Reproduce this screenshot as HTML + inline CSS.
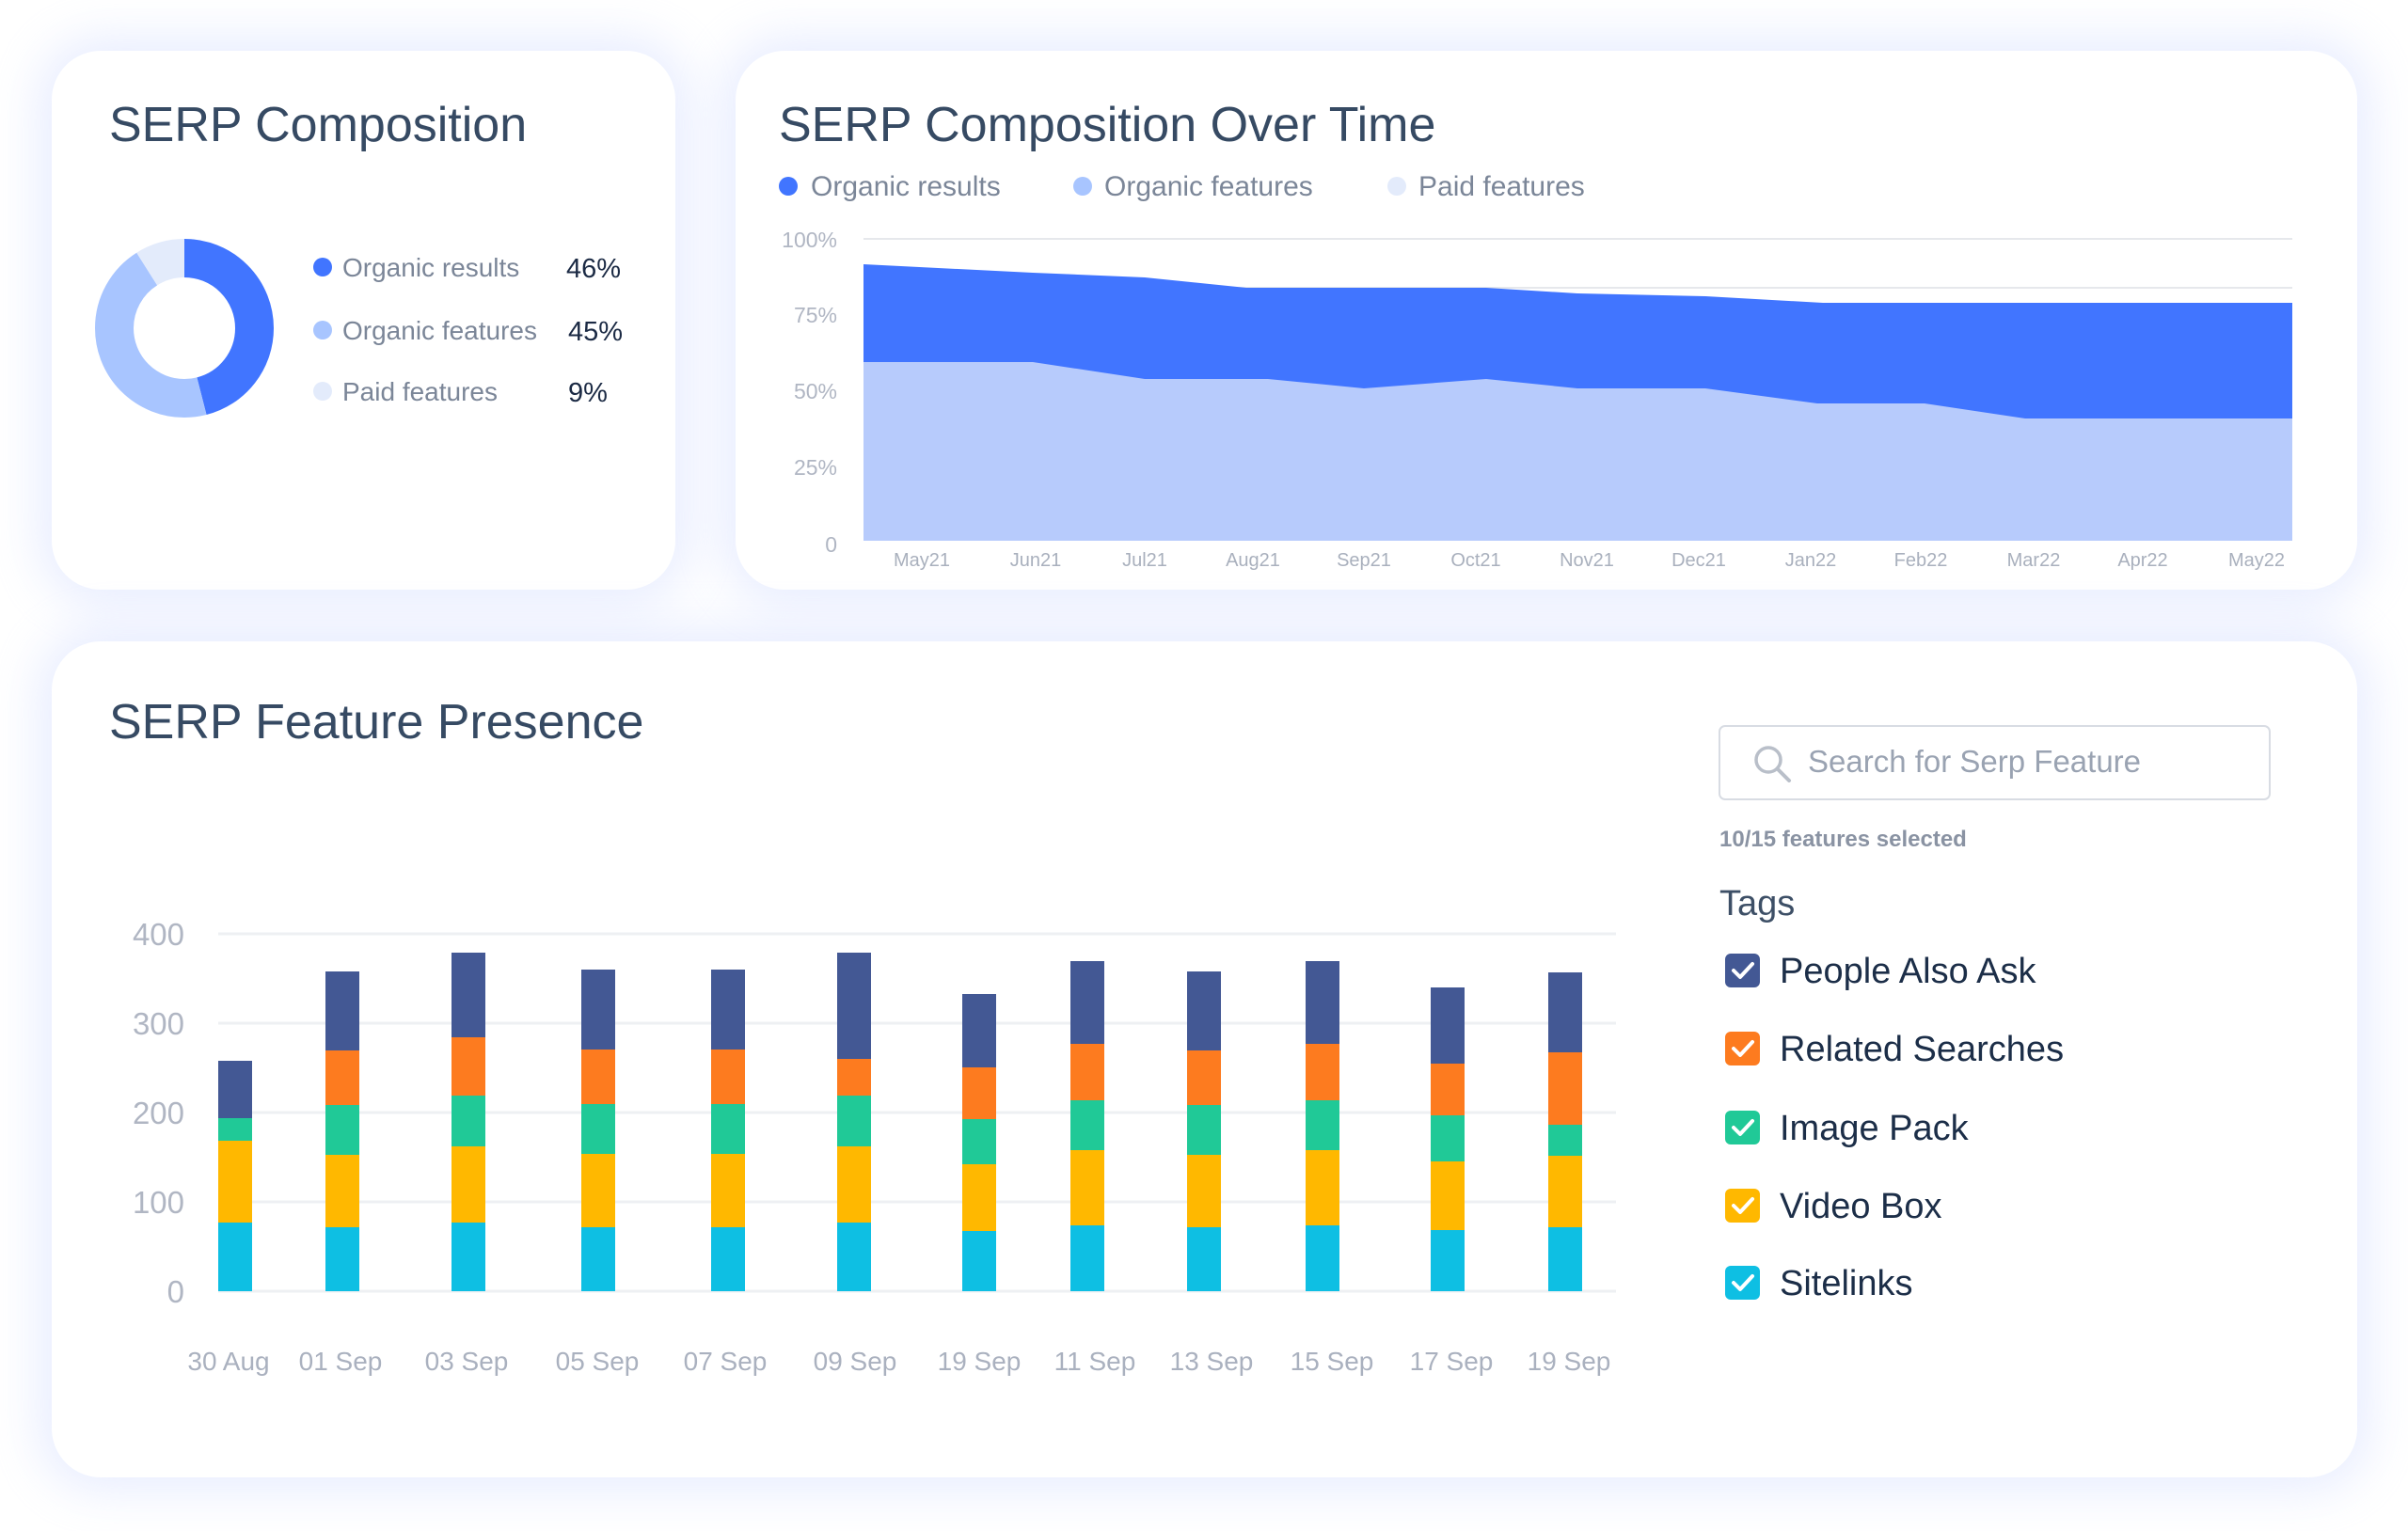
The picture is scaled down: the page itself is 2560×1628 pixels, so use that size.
<!DOCTYPE html>
<html><head><meta charset="utf-8"><style>
html,body{margin:0;padding:0;background:#fff;}
body{width:2560px;height:1628px;position:relative;overflow:hidden;font-family:"Liberation Sans",sans-serif;}
.card{position:absolute;background:#fff;border-radius:52px;box-shadow:0 0 50px 14px rgba(205,215,255,0.45);}
svg{position:absolute;left:0;top:0;}
</style></head><body>
<div class="card" style="left:55px;top:54px;width:663px;height:573px"></div>
<div class="card" style="left:782px;top:54px;width:1724px;height:573px"></div>
<div class="card" style="left:55px;top:682px;width:2451px;height:889px"></div>
<svg width="2560" height="1628" viewBox="0 0 2560 1628" font-family="Liberation Sans, sans-serif">
<!-- Card 1 -->
<text x="116" y="150" font-size="52" fill="#364a63">SERP Composition</text>
<g transform="rotate(-90 196 349)" fill="none" stroke-width="41">
<circle cx="196" cy="349" r="74.5" stroke="#4175ff" stroke-dasharray="215.3 468.1"/>
<circle cx="196" cy="349" r="74.5" stroke="#a8c5ff" stroke-dasharray="0 215.3 210.6 468.1"/>
<circle cx="196" cy="349" r="74.5" stroke="#e3ebfb" stroke-dasharray="0 425.9 42.2 468.1"/>
</g>
<circle cx="343" cy="284" r="10" fill="#4175ff"/>
<circle cx="343" cy="351" r="10" fill="#a8c5ff"/>
<circle cx="343" cy="416" r="10" fill="#e3ebfb"/>
<g font-size="28" fill="#7b8698">
<text x="364" y="294">Organic results</text>
<text x="364" y="361">Organic features</text>
<text x="364" y="426">Paid features</text>
</g>
<g font-size="29" fill="#1b2a44">
<text x="602" y="295">46%</text>
<text x="604" y="362">45%</text>
<text x="604" y="427">9%</text>
</g>
<!-- Card 2 -->
<text x="828" y="150" font-size="52" fill="#364a63">SERP Composition Over Time</text>
<circle cx="838" cy="198" r="10" fill="#4175ff"/>
<circle cx="1151" cy="198" r="10" fill="#a8c5ff"/>
<circle cx="1485" cy="198" r="10" fill="#e3ebfb"/>
<g font-size="30" fill="#7b8698">
<text x="862" y="208">Organic results</text>
<text x="1174" y="208">Organic features</text>
<text x="1508" y="208">Paid features</text>
</g>
<g font-size="23" fill="#b0b6c3" text-anchor="end">
<text x="890" y="263">100%</text>
<text x="890" y="343">75%</text>
<text x="890" y="424">50%</text>
<text x="890" y="505">25%</text>
<text x="890" y="587">0</text>
</g>
<line x1="918" y1="254" x2="2437" y2="254" stroke="#e6e8ec" stroke-width="2"/>
<line x1="918" y1="306" x2="2437" y2="306" stroke="#e6e8ec" stroke-width="2"/>
<polygon fill="#4175ff" points="918,281 1098,290 1217,295 1325,306 1580,306 1677,312 1813,315 1938,322 2437,322 2437,575 918,575"/>
<polygon fill="#b7cbfc" points="918,385 1098,385 1217,403 1348,403 1450,413 1580,403 1677,413 1813,413 1932,429 2046,429 2153,445 2437,445 2437,575 918,575"/>
<g font-size="20" fill="#a9b0bd" text-anchor="middle">
<text x="980" y="602">May21</text><text x="1101" y="602">Jun21</text><text x="1217" y="602">Jul21</text>
<text x="1332" y="602">Aug21</text><text x="1450" y="602">Sep21</text><text x="1569" y="602">Oct21</text>
<text x="1687" y="602">Nov21</text><text x="1806" y="602">Dec21</text><text x="1925" y="602">Jan22</text>
<text x="2042" y="602">Feb22</text><text x="2162" y="602">Mar22</text><text x="2278" y="602">Apr22</text>
<text x="2399" y="602">May22</text>
</g>
<!-- Card 3 -->
<text x="116" y="785" font-size="52" fill="#364a63">SERP Feature Presence</text>
<g stroke="#eef0f3" stroke-width="3">
<line x1="232" y1="993" x2="1718" y2="993"/><line x1="232" y1="1088" x2="1718" y2="1088"/>
<line x1="232" y1="1183" x2="1718" y2="1183"/><line x1="232" y1="1278" x2="1718" y2="1278"/>
<line x1="232" y1="1373" x2="1718" y2="1373"/>
</g>
<g font-size="33" fill="#b0b6c3" text-anchor="end">
<text x="196" y="1005">400</text><text x="196" y="1100">300</text><text x="196" y="1195">200</text>
<text x="196" y="1290">100</text><text x="196" y="1385">0</text>
</g>
<g font-size="28" fill="#aab1bf" text-anchor="middle">
<text x="243" y="1457">30 Aug</text><text x="362" y="1457">01 Sep</text><text x="496" y="1457">03 Sep</text>
<text x="635" y="1457">05 Sep</text><text x="771" y="1457">07 Sep</text><text x="909" y="1457">09 Sep</text>
<text x="1041" y="1457">19 Sep</text><text x="1164" y="1457">11 Sep</text><text x="1288" y="1457">13 Sep</text>
<text x="1416" y="1457">15 Sep</text><text x="1543" y="1457">17 Sep</text><text x="1668" y="1457">19 Sep</text>
</g>
<!-- right panel -->
<rect x="1828" y="772" width="585" height="78" rx="6" fill="#fff" stroke="#d8dce3" stroke-width="2"/>
<circle cx="1880" cy="808" r="13" fill="none" stroke="#b9bfc9" stroke-width="3.5"/>
<line x1="1890" y1="818" x2="1902" y2="830" stroke="#b9bfc9" stroke-width="4" stroke-linecap="round"/>
<text x="1922" y="821" font-size="33" fill="#9aa3b2">Search for Serp Feature</text>
<text x="1828" y="900" font-size="24" font-weight="bold" fill="#8a93a3">10/15 features selected</text>
<text x="1828" y="973" font-size="38" fill="#3d4f66">Tags</text>
<g font-size="38" fill="#1c2e48">
<text x="1892" y="1045">People Also Ask</text>
<text x="1892" y="1128">Related Searches</text>
<text x="1892" y="1212">Image Pack</text>
<text x="1892" y="1295">Video Box</text>
<text x="1892" y="1377">Sitelinks</text>
</g>
<g stroke="#fff" stroke-width="4" fill="none" stroke-linecap="round" stroke-linejoin="round">
<rect x="1834" y="1014" width="37" height="36" rx="6" fill="#435894" stroke="none"/>
<polyline points="1843,1032 1850,1039 1863,1025"/>
<rect x="1834" y="1097" width="37" height="36" rx="6" fill="#fd7b1f" stroke="none"/>
<polyline points="1843,1115 1850,1122 1863,1108"/>
<rect x="1834" y="1181" width="37" height="36" rx="6" fill="#20c997" stroke="none"/>
<polyline points="1843,1199 1850,1206 1863,1192"/>
<rect x="1834" y="1264" width="37" height="36" rx="6" fill="#ffb800" stroke="none"/>
<polyline points="1843,1282 1850,1289 1863,1275"/>
<rect x="1834" y="1346" width="37" height="36" rx="6" fill="#0ebfe3" stroke="none"/>
<polyline points="1843,1364 1850,1371 1863,1357"/>
</g>
<g>
<rect x="232" y="1300" width="36" height="73" fill="#0ebfe3"/><rect x="232" y="1213" width="36" height="87" fill="#ffb800"/><rect x="232" y="1189" width="36" height="24" fill="#20c997"/><rect x="232" y="1128" width="36" height="61" fill="#435894"/>
<rect x="346" y="1305" width="36" height="68" fill="#0ebfe3"/><rect x="346" y="1228" width="36" height="77" fill="#ffb800"/><rect x="346" y="1175" width="36" height="53" fill="#20c997"/><rect x="346" y="1117" width="36" height="58" fill="#fd7b1f"/><rect x="346" y="1033" width="36" height="84" fill="#435894"/>
<rect x="480" y="1300" width="36" height="73" fill="#0ebfe3"/><rect x="480" y="1219" width="36" height="81" fill="#ffb800"/><rect x="480" y="1165" width="36" height="54" fill="#20c997"/><rect x="480" y="1103" width="36" height="62" fill="#fd7b1f"/><rect x="480" y="1013" width="36" height="90" fill="#435894"/>
<rect x="618" y="1305" width="36" height="68" fill="#0ebfe3"/><rect x="618" y="1227" width="36" height="78" fill="#ffb800"/><rect x="618" y="1174" width="36" height="53" fill="#20c997"/><rect x="618" y="1116" width="36" height="58" fill="#fd7b1f"/><rect x="618" y="1031" width="36" height="85" fill="#435894"/>
<rect x="756" y="1305" width="36" height="68" fill="#0ebfe3"/><rect x="756" y="1227" width="36" height="78" fill="#ffb800"/><rect x="756" y="1174" width="36" height="53" fill="#20c997"/><rect x="756" y="1116" width="36" height="58" fill="#fd7b1f"/><rect x="756" y="1031" width="36" height="85" fill="#435894"/>
<rect x="890" y="1300" width="36" height="73" fill="#0ebfe3"/><rect x="890" y="1219" width="36" height="81" fill="#ffb800"/><rect x="890" y="1165" width="36" height="54" fill="#20c997"/><rect x="890" y="1126" width="36" height="39" fill="#fd7b1f"/><rect x="890" y="1013" width="36" height="113" fill="#435894"/>
<rect x="1023" y="1309" width="36" height="64" fill="#0ebfe3"/><rect x="1023" y="1238" width="36" height="71" fill="#ffb800"/><rect x="1023" y="1190" width="36" height="48" fill="#20c997"/><rect x="1023" y="1135" width="36" height="55" fill="#fd7b1f"/><rect x="1023" y="1057" width="36" height="78" fill="#435894"/>
<rect x="1138" y="1303" width="36" height="70" fill="#0ebfe3"/><rect x="1138" y="1223" width="36" height="80" fill="#ffb800"/><rect x="1138" y="1170" width="36" height="53" fill="#20c997"/><rect x="1138" y="1110" width="36" height="60" fill="#fd7b1f"/><rect x="1138" y="1022" width="36" height="88" fill="#435894"/>
<rect x="1262" y="1305" width="36" height="68" fill="#0ebfe3"/><rect x="1262" y="1228" width="36" height="77" fill="#ffb800"/><rect x="1262" y="1175" width="36" height="53" fill="#20c997"/><rect x="1262" y="1117" width="36" height="58" fill="#fd7b1f"/><rect x="1262" y="1033" width="36" height="84" fill="#435894"/>
<rect x="1388" y="1303" width="36" height="70" fill="#0ebfe3"/><rect x="1388" y="1223" width="36" height="80" fill="#ffb800"/><rect x="1388" y="1170" width="36" height="53" fill="#20c997"/><rect x="1388" y="1110" width="36" height="60" fill="#fd7b1f"/><rect x="1388" y="1022" width="36" height="88" fill="#435894"/>
<rect x="1521" y="1308" width="36" height="65" fill="#0ebfe3"/><rect x="1521" y="1235" width="36" height="73" fill="#ffb800"/><rect x="1521" y="1186" width="36" height="49" fill="#20c997"/><rect x="1521" y="1131" width="36" height="55" fill="#fd7b1f"/><rect x="1521" y="1050" width="36" height="81" fill="#435894"/>
<rect x="1646" y="1305" width="36" height="68" fill="#0ebfe3"/><rect x="1646" y="1229" width="36" height="76" fill="#ffb800"/><rect x="1646" y="1196" width="36" height="33" fill="#20c997"/><rect x="1646" y="1119" width="36" height="77" fill="#fd7b1f"/><rect x="1646" y="1034" width="36" height="85" fill="#435894"/>
</g>
</svg>
</body></html>
